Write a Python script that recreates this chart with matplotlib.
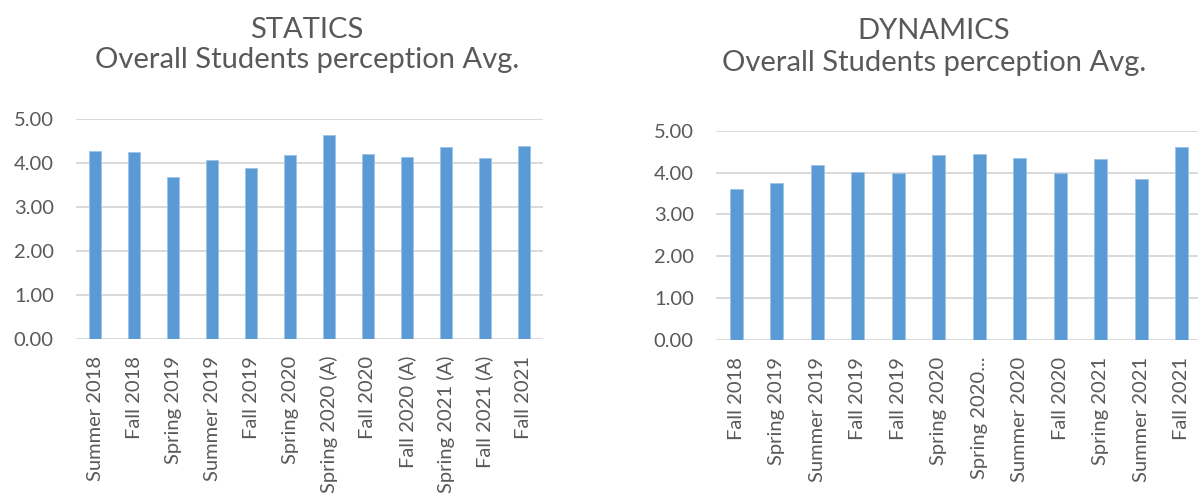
import matplotlib
matplotlib.use("Agg")
from matplotlib import pyplot as plt
import numpy as np

plt.rcParams['font.family'] = ['Lato', 'DejaVu Sans']

# STATICS data
statics_terms = ['Summer 2018', 'Fall 2018', 'Spring 2019', 'Summer 2019', 'Fall 2019',
                 'Spring 2020', 'Spring 2020 (A)', 'Fall 2020', 'Fall 2020 (A)',
                 'Spring 2021 (A)', 'Fall 2021 (A)', 'Fall 2021']
statics_avg = [4.27, 4.25, 3.70, 4.08, 3.89, 4.19, 4.64, 4.21, 4.15, 4.36, 4.12, 4.39]

# DYNAMICS data
dynamics_terms = ['Fall 2018', 'Spring 2019', 'Summer 2019', 'Fall 2019', 'Fall 2019',
                  'Spring 2020', 'Spring 2020...', 'Summer 2020', 'Fall 2020',
                  'Spring 2021', 'Summer 2021', 'Fall 2021']
dynamics_avg = [3.60, 3.74, 4.17, 4.01, 3.98, 4.42, 4.44, 4.35, 4.00, 4.32, 3.85, 4.60]

yticks = [0, 1, 2, 3, 4, 5]

bar_color = '#5b9bd5'
text_color = '#595959'
grid_color = '#d9d9d9'

W, H = 1198, 504
fig = plt.figure(figsize=(W / 100, H / 100), dpi=100)


def draw(rect, terms, values):
    ax = fig.add_axes(rect)
    x = np.arange(len(terms))
    ax.bar(x, values, width=0.31, color=bar_color, edgecolor='#9dc3e6', linewidth=0.6, zorder=3)
    ax.set_xlim(-0.5, len(terms) - 0.5)
    ax.set_ylim(0, 5)
    ax.set_yticks(yticks)
    ax.set_yticklabels(['%.2f' % v for v in yticks])
    ax.set_xticks(x)
    ax.set_xticklabels(terms, rotation=90, va='top', ha='center')
    ax.grid(axis='y', color=grid_color, linewidth=1.4, zorder=0)
    for s in ax.spines.values():
        s.set_visible(False)
    ax.tick_params(axis='y', length=0, pad=16, labelsize=14.5, labelcolor=text_color)
    ax.tick_params(axis='x', length=0, pad=12, labelsize=14.5, labelcolor=text_color)
    return ax


draw([76 / W, 1 - 339.3 / H, 467 / W, 220 / H], statics_terms, statics_avg)
draw([716 / W, 1 - 340 / H, 486 / W, 209.3 / H], dynamics_terms, dynamics_avg)

# titles
fig.text(307 / W, 1 - 38 / H, 'STATICS', ha='center', va='baseline', fontsize=21, color=text_color)
fig.text(307 / W, 1 - 68 / H, 'Overall Students perception Avg.', ha='center', va='baseline',
         fontsize=21, color=text_color)
fig.text(934 / W, 1 - 39 / H, 'DYNAMICS', ha='center', va='baseline', fontsize=21, color=text_color)
fig.text(934 / W, 1 - 71 / H, 'Overall Students perception Avg.', ha='center', va='baseline',
         fontsize=21, color=text_color)

fig.savefig('out.png', dpi=100)
